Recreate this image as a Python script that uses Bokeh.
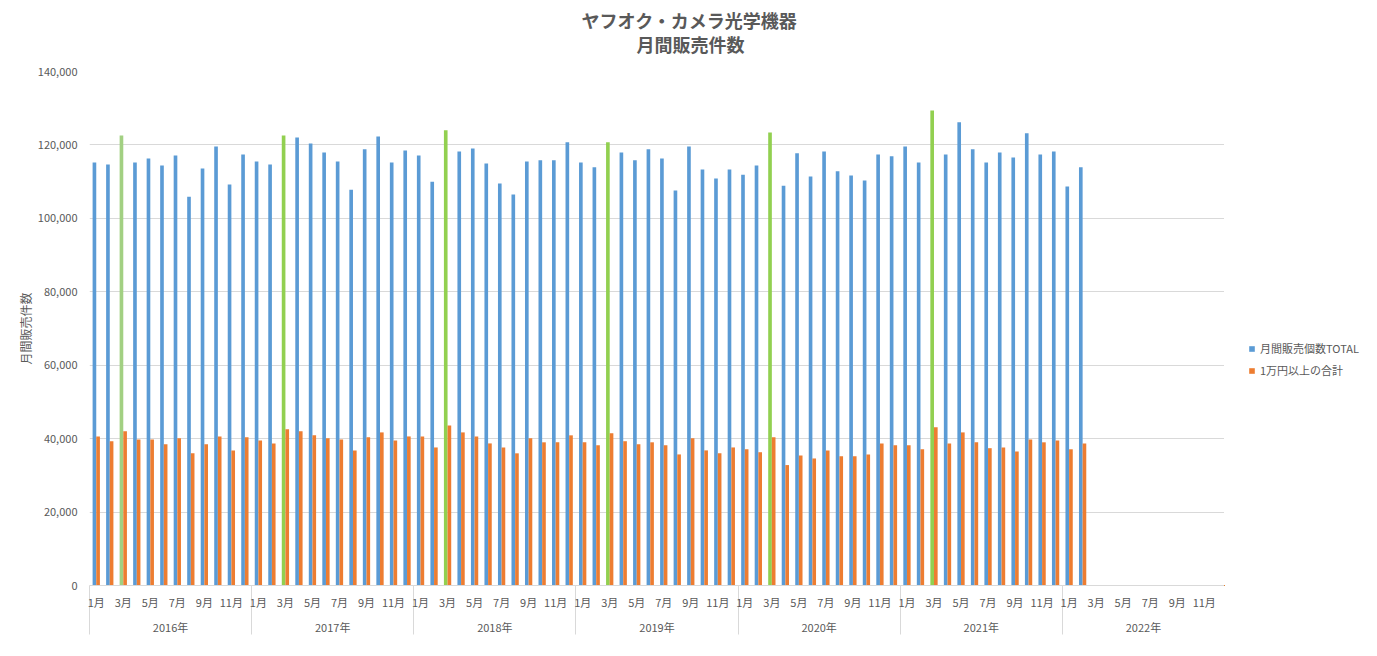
from bokeh.plotting import figure
from bokeh.layouts import row
from bokeh.models import (Range1d, LinearAxis, FixedTicker, NumeralTickFormatter, Grid,
                          Legend, LegendItem, Title, ColumnDataSource)
from bokeh.transform import dodge
from bokeh.embed import file_html
from bokeh.resources import INLINE

FONT = "Noto Sans CJK JP"
TXT = "#595959"

years = ["2016年", "2017年", "2018年", "2019年", "2020年", "2021年", "2022年"]
month_labels = ["1月", "3月", "5月", "7月", "9月", "11月"]
series_names = ["月間販売個数TOTAL", "1万円以上の合計"]

total = [
    115200, 114700, 122600, 115200, 116300, 114400, 117100, 105900, 113600, 119600, 109200, 117400,
    115500, 114700, 122600, 122050, 120400, 117950, 115500, 107800, 118800, 122300, 115200, 118500,
    117100, 110000, 124000, 118200, 119050, 114950, 109500, 106500, 115500, 115800, 115800, 120700,
    115200, 113900, 120700, 117950, 115800, 118800, 116300, 107600, 119600, 113300, 110850, 113300,
    111900, 114400, 123400, 108900, 117700, 111400, 118200, 112800, 111700, 110300, 117400, 116900,
    119600, 115200, 129400, 117400, 126150, 118800, 115200, 117950, 116600, 123150, 117400, 118200,
    108700, 113900,
]
over10k = [
    40600, 39300, 42000, 39800, 39800, 38450, 40100, 36000, 38450, 40600, 36800, 40400,
    39500, 38700, 42550, 42000, 40900, 40100, 39800, 36800, 40400, 41700, 39500, 40600,
    40600, 37600, 43600, 41700, 40600, 38700, 37600, 36000, 40100, 39000, 39000, 40900,
    39000, 38200, 41500, 39300, 38450, 39000, 38200, 35700, 40100, 36800, 36000, 37600,
    37100, 36300, 40400, 32800, 35400, 34600, 36800, 35200, 35200, 35700, 38700, 38200,
    38200, 37100, 43100, 38700, 41700, 39000, 37400, 37600, 36500, 39800, 39000, 39500,
    37100, 38700,
]

BLUE = "#5B9BD5"
ORANGE = "#ED7D31"
GREEN = "#92D050"
GREEN_LIGHT = "#A2D082"

n_slots = 12 * len(years)
Y_MAX = 140000
idx = list(range(len(total)))
colors = []
for i in idx:
    if i % 12 == 2:
        colors.append(GREEN_LIGHT if i == 2 else GREEN)
    else:
        colors.append(BLUE)

src = ColumnDataSource(dict(x=idx, total=total, over=over10k, color=colors))

p = figure(width=1224, height=640, output_backend="svg", toolbar_location=None,
           x_range=Range1d(-0.5, n_slots - 0.5), y_range=Range1d(0, Y_MAX),
           x_axis_type=None, y_axis_type=None,
           min_border_left=89, min_border_right=0, min_border_top=71, min_border_bottom=55)
p.outline_line_color = None
p.background_fill_color = "white"
p.border_fill_color = "white"

yticker = FixedTicker(ticks=list(range(0, Y_MAX + 1, 20000)))
p.add_layout(Grid(dimension=1, ticker=yticker, grid_line_color="#D9D9D9", grid_line_width=1))

W = 0.27
r1 = p.vbar(x=dodge("x", -W / 2, range=p.x_range), top="total", width=W, source=src,
            fill_color="color", line_color=None)
r2 = p.vbar(x=dodge("x", W / 2, range=p.x_range), top="over", width=W, source=src,
            fill_color=ORANGE, line_color=None)

yaxis = LinearAxis(ticker=yticker, formatter=NumeralTickFormatter(format="0,0"),
                   axis_line_color=None, major_tick_line_color=None, minor_tick_line_color=None,
                   major_label_text_font_size="11px", major_label_text_color=TXT,
                   major_label_text_font=FONT, major_label_standoff=6,
                   axis_label="月間販売件数", axis_label_text_font_size="12px",
                   axis_label_text_font_style="normal", axis_label_text_color=TXT,
                   axis_label_text_font=FONT, axis_label_standoff=1)
p.add_layout(yaxis, "left")

month_ticks = list(range(0, n_slots, 2))
month_over = {t: month_labels[(t % 12) // 2] for t in month_ticks}
sep_ticks = [-0.5 + 12 * k for k in range(len(years) + 1)]
xaxis = LinearAxis(ticker=FixedTicker(ticks=month_ticks, minor_ticks=sep_ticks),
                   major_label_overrides=month_over,
                   major_tick_line_color=None, major_tick_out=0, major_tick_in=0,
                   minor_tick_out=49, minor_tick_in=0, minor_tick_line_color="#D9D9D9",
                   axis_line_color="#D9D9D9",
                   major_label_text_font_size="11px", major_label_text_color=TXT,
                   major_label_text_font=FONT, major_label_standoff=-41)
p.add_layout(xaxis, "below")

year_ticks = [5.5 + 12 * k for k in range(len(years))]
year_over = {t: y for t, y in zip(year_ticks, years)}
xaxis2 = LinearAxis(ticker=FixedTicker(ticks=year_ticks), major_label_overrides=year_over,
                    axis_line_color=None, major_tick_line_color=None, minor_tick_line_color=None,
                    major_tick_out=0, major_tick_in=0,
                    major_label_text_font_size="11px", major_label_text_color=TXT,
                    major_label_text_font=FONT, major_label_standoff=6)
p.add_layout(xaxis2, "below")

t2 = Title(text="月間販売件数", align="left", offset=547, text_font_size="18px",
           text_font_style="bold", text_color=TXT, text_font=FONT, standoff=29)
t1 = Title(text="ヤフオク・カメラ光学機器", align="left", offset=492, text_font_size="18px",
           text_font_style="bold", text_color=TXT, text_font=FONT, standoff=-37)
p.add_layout(t2, "above")
p.add_layout(t1, "above")

# legend panel on the right: same series, with view ranges far from the data (nothing shown),
# used only for the legend swatches
lf = figure(width=137, height=640, output_backend="svg", toolbar_location=None,
            x_range=Range1d(10 * n_slots, 11 * n_slots), y_range=Range1d(10 * Y_MAX, 11 * Y_MAX),
            x_axis_type=None, y_axis_type=None, min_border=0)
lf.outline_line_color = None
lf.background_fill_color = "white"
lf.border_fill_color = "white"
lr1 = lf.vbar(x="x", top="total", width=W, source=src, fill_color=BLUE, line_color=None)
lr2 = lf.vbar(x="x", top="over", width=W, source=src, fill_color=ORANGE, line_color=None)
legend = Legend(items=[LegendItem(label=series_names[0], renderers=[lr1], index=0),
                       LegendItem(label=series_names[1], renderers=[lr2], index=0)],
                location=(24, 207), orientation="vertical",
                border_line_color=None, background_fill_alpha=0,
                glyph_width=7, glyph_height=7, label_height=14, spacing=6,
                padding=5, margin=0, label_standoff=5,
                label_text_font_size="11px", label_text_color=TXT, label_text_font=FONT)
lf.add_layout(legend)

layout = row(p, lf)
open("out.html", "w").write(file_html(layout, INLINE))
